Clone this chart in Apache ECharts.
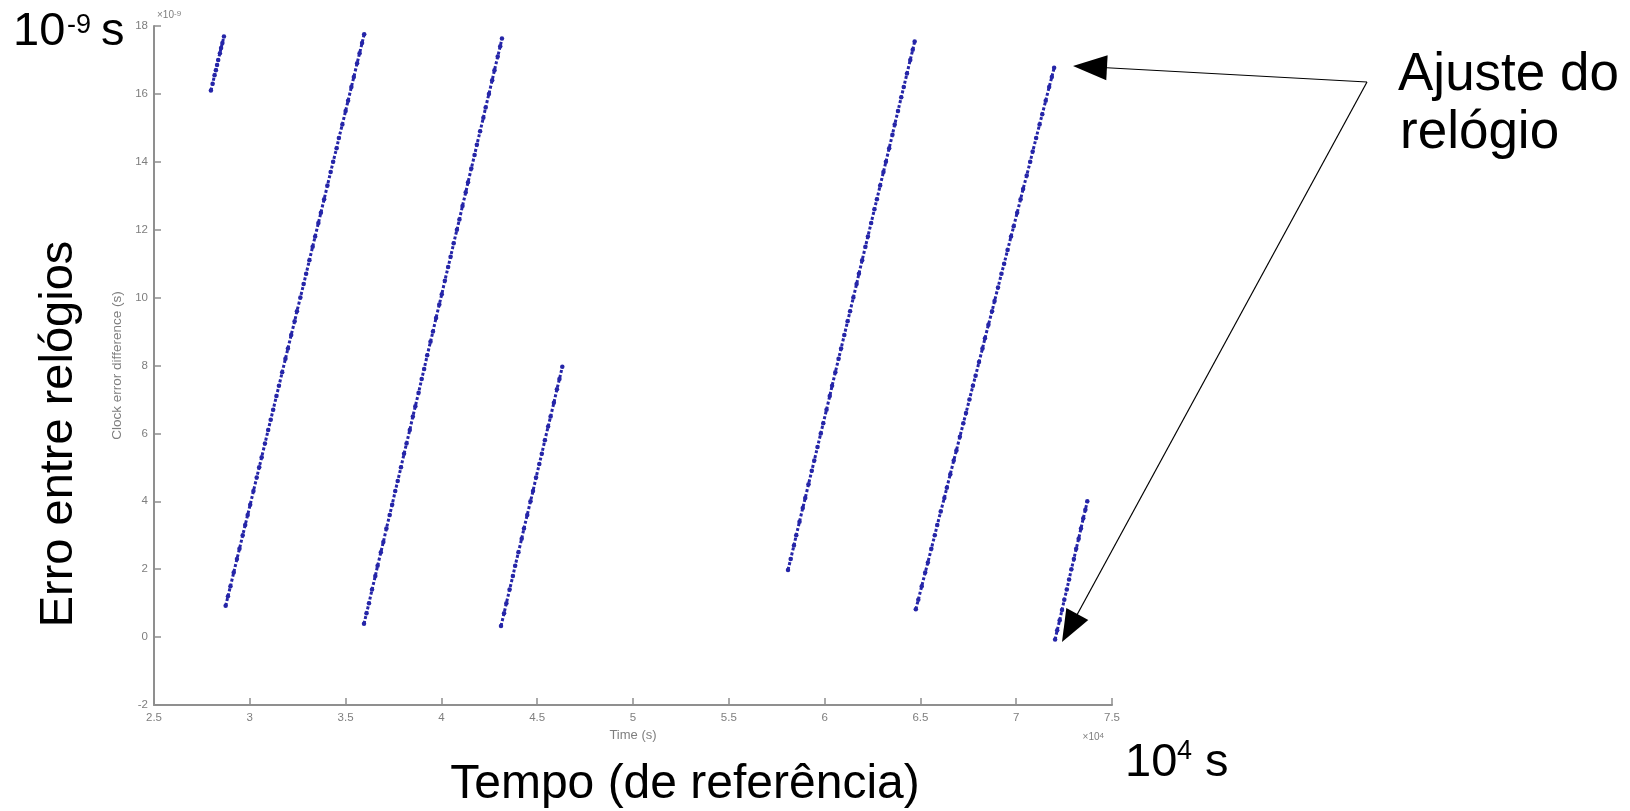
<!DOCTYPE html>
<html>
<head>
<meta charset="utf-8">
<script src="https://cdn.jsdelivr.net/npm/echarts@6/dist/echarts.min.js"></script>
<style>html,body{margin:0;padding:0;background:#fff}#c{width:1630px;height:811px}</style>
</head>
<body>
<div id="c"></div>
<script>
// x in units of 1e4 s, y in units of 1e-9 s
const seg1 = [[2.797,16.1],[2.806,16.3],[2.816,16.55],[2.823,16.7],[2.829,16.85],[2.835,17.0],[2.844,17.2],[2.850,17.35],[2.857,17.5],[2.865,17.69]];
const seg2 = [[2.874,0.92],[2.886,1.2],[2.899,1.5],[2.916,1.9],[2.933,2.3],[2.946,2.6],[2.963,3.0],[2.976,3.3],[2.989,3.6],[3.002,3.9],[3.019,4.3],[3.036,4.7],[3.049,5.0],[3.062,5.3],[3.079,5.7],[3.096,6.1],[3.109,6.4],[3.122,6.7],[3.139,7.1],[3.152,7.4],[3.169,7.8],[3.186,8.2],[3.199,8.5],[3.216,8.9],[3.234,9.3],[3.246,9.6],[3.264,10.0],[3.281,10.4],[3.294,10.7],[3.311,11.1],[3.328,11.5],[3.341,11.8],[3.358,12.2],[3.371,12.5],[3.388,12.9],[3.405,13.3],[3.422,13.7],[3.435,14.0],[3.453,14.4],[3.465,14.7],[3.483,15.1],[3.500,15.5],[3.513,15.8],[3.530,16.2],[3.543,16.5],[3.560,16.9],[3.573,17.2],[3.586,17.5],[3.597,17.76]];
const seg3 = [[3.596,0.39],[3.609,0.7],[3.622,1.0],[3.638,1.4],[3.655,1.8],[3.667,2.1],[3.684,2.5],[3.697,2.8],[3.713,3.2],[3.730,3.6],[3.743,3.9],[3.759,4.3],[3.772,4.6],[3.789,5.0],[3.805,5.4],[3.818,5.7],[3.835,6.1],[3.851,6.5],[3.864,6.8],[3.881,7.2],[3.897,7.6],[3.910,7.9],[3.926,8.3],[3.943,8.7],[3.956,9.0],[3.972,9.4],[3.989,9.8],[4.002,10.1],[4.018,10.5],[4.035,10.9],[4.048,11.2],[4.064,11.6],[4.081,12.0],[4.094,12.3],[4.110,12.7],[4.127,13.1],[4.139,13.4],[4.156,13.8],[4.173,14.2],[4.185,14.5],[4.202,14.9],[4.219,15.3],[4.231,15.6],[4.248,16.0],[4.265,16.4],[4.277,16.7],[4.294,17.1],[4.307,17.4],[4.316,17.63]];
const seg4 = [[4.311,0.33],[4.327,0.7],[4.339,1.0],[4.356,1.4],[4.373,1.8],[4.385,2.1],[4.402,2.5],[4.419,2.9],[4.431,3.2],[4.448,3.6],[4.465,4.0],[4.478,4.3],[4.494,4.7],[4.511,5.1],[4.524,5.4],[4.540,5.8],[4.557,6.2],[4.570,6.5],[4.587,6.9],[4.603,7.3],[4.616,7.6],[4.631,7.96]];
const seg5 = [[5.809,1.98],[5.823,2.3],[5.840,2.7],[5.852,3.0],[5.869,3.4],[5.886,3.8],[5.899,4.1],[5.916,4.5],[5.933,4.9],[5.946,5.2],[5.963,5.6],[5.980,6.0],[5.993,6.3],[6.010,6.7],[6.027,7.1],[6.039,7.4],[6.056,7.8],[6.073,8.2],[6.086,8.5],[6.103,8.9],[6.120,9.3],[6.133,9.6],[6.150,10.0],[6.167,10.4],[6.179,10.7],[6.196,11.1],[6.213,11.5],[6.226,11.8],[6.243,12.2],[6.260,12.6],[6.273,12.9],[6.290,13.3],[6.307,13.7],[6.320,14.0],[6.337,14.4],[6.354,14.8],[6.366,15.1],[6.383,15.5],[6.400,15.9],[6.413,16.2],[6.430,16.6],[6.447,17.0],[6.460,17.3],[6.470,17.54]];
const seg6 = [[6.476,0.82],[6.489,1.1],[6.507,1.5],[6.525,1.9],[6.539,2.2],[6.557,2.6],[6.575,3.0],[6.588,3.3],[6.606,3.7],[6.625,4.1],[6.638,4.4],[6.656,4.8],[6.674,5.2],[6.688,5.5],[6.706,5.9],[6.724,6.3],[6.738,6.6],[6.756,7.0],[6.774,7.4],[6.788,7.7],[6.806,8.1],[6.824,8.5],[6.837,8.8],[6.855,9.2],[6.874,9.6],[6.887,9.9],[6.905,10.3],[6.923,10.7],[6.937,11.0],[6.955,11.4],[6.973,11.8],[6.987,12.1],[7.005,12.5],[7.023,12.9],[7.036,13.2],[7.055,13.6],[7.073,14.0],[7.086,14.3],[7.104,14.7],[7.122,15.1],[7.136,15.4],[7.154,15.8],[7.172,16.2],[7.186,16.5],[7.198,16.77]];
const seg7 = [[7.203,-0.07],[7.214,0.2],[7.227,0.5],[7.239,0.8],[7.251,1.1],[7.264,1.4],[7.276,1.7],[7.288,2.0],[7.301,2.3],[7.313,2.6],[7.326,2.9],[7.338,3.2],[7.350,3.5],[7.361,3.75],[7.371,4.0]];
const segments = [seg1, seg2, seg3, seg4, seg5, seg6, seg7];

const xAxisTitle = 'Time (s)';
const yAxisTitle = 'Clock error difference (s)';
const xExpLabel = '4';
const yExpLabel = '-9';

const FONT = "'Liberation Sans', Arial, sans-serif";
const AX = '#8f8f8f';
const LBL = '#7e7e7e';
const DOT = '#2525a8';

function arrowHead(tip, from, len, w) {
  const dx = tip[0] - from[0], dy = tip[1] - from[1];
  const L = Math.hypot(dx, dy);
  const ux = dx / L, uy = dy / L;
  const bx = tip[0] - ux * len, by = tip[1] - uy * len;
  return [[tip[0], tip[1]], [bx - uy * w / 2, by + ux * w / 2], [bx + uy * w / 2, by - ux * w / 2]];
}
const junction = [1367, 82];
const tipTop = [1073, 66];
const tipBot = [1062, 642];

const chart = echarts.init(document.getElementById('c'), null, {renderer: 'canvas'});
chart.setOption({
  animation: false,
  backgroundColor: '#ffffff',
  grid: {left: 154, right: 518, top: 26, bottom: 106, containLabel: false},
  xAxis: {
    type: 'value', min: 2.5, max: 7.5, interval: 0.5,
    name: xAxisTitle, nameLocation: 'middle', nameGap: 22,
    nameTextStyle: {color: LBL, fontSize: 13, fontFamily: FONT},
    axisLine: {show: true, onZero: false, lineStyle: {color: AX, width: 2}},
    axisTick: {show: true, inside: true, length: 7, lineStyle: {color: AX, width: 1.5}},
    axisLabel: {color: LBL, fontSize: 11.5, fontFamily: FONT, margin: 7},
    splitLine: {show: false}
  },
  yAxis: {
    type: 'value', min: -2, max: 18, interval: 2,
    name: yAxisTitle, nameLocation: 'middle', nameGap: 26, nameRotate: 90,
    nameTextStyle: {color: LBL, fontSize: 13.5, fontFamily: FONT},
    axisLine: {show: true, onZero: false, lineStyle: {color: AX, width: 2}},
    axisTick: {show: true, inside: true, length: 7, lineStyle: {color: AX, width: 1.5}},
    axisLabel: {color: LBL, fontSize: 11.5, fontFamily: FONT, margin: 6},
    splitLine: {show: false}
  },
  series: segments.map((s, i) => ({
    type: 'line', name: 'seg' + (i + 1), data: s,
    showSymbol: true, symbol: 'circle', symbolSize: 4.5,
    itemStyle: {color: DOT},
    lineStyle: {color: DOT, width: 3, type: [3, 2]},
    silent: true
  })),
  graphic: [
    // small MATLAB exponent labels
    {type: 'text', left: 157, top: 10, style: {text: '×10{s|' + yExpLabel + '}', rich: {s: {fontSize: 8, verticalAlign: 'top', fill: LBL, fontFamily: FONT}}, fill: LBL, fontSize: 10, fontFamily: FONT}},
    {type: 'text', right: 526, top: 732, style: {text: '×10{s|' + xExpLabel + '}', rich: {s: {fontSize: 8, verticalAlign: 'top', fill: LBL, fontFamily: FONT}}, fill: LBL, fontSize: 10, fontFamily: FONT}},
    // big annotations
    {type: 'text', x: 13, y: 32, style: {text: '10', fontSize: 47, fontFamily: FONT, fill: '#000', verticalAlign: 'middle', align: 'left'}},
    {type: 'text', x: 67, y: 26, style: {text: '-9', fontSize: 27, fontFamily: FONT, fill: '#000', verticalAlign: 'middle', align: 'left'}},
    {type: 'text', x: 101, y: 32, style: {text: 's', fontSize: 47, fontFamily: FONT, fill: '#000', verticalAlign: 'middle', align: 'left'}},
    {type: 'text', x: 1125, y: 763, style: {text: '10', fontSize: 47, fontFamily: FONT, fill: '#000', verticalAlign: 'middle', align: 'left'}},
    {type: 'text', x: 1177, y: 752, style: {text: '4', fontSize: 27, fontFamily: FONT, fill: '#000', verticalAlign: 'middle', align: 'left'}},
    {type: 'text', x: 1205, y: 763, style: {text: 's', fontSize: 47, fontFamily: FONT, fill: '#000', verticalAlign: 'middle', align: 'left'}},
    {type: 'text', x: 685, y: 785, style: {text: 'Tempo (de referência)', fontSize: 48, fontFamily: FONT, fill: '#000', verticalAlign: 'middle', align: 'center'}},
    {type: 'text', x: 59, y: 434, rotation: Math.PI / 2, style: {text: 'Erro entre relógios', fontSize: 47, fontFamily: FONT, fill: '#000', verticalAlign: 'middle', align: 'center'}},
    {type: 'text', x: 1398, y: 75, style: {text: 'Ajuste do', fontSize: 53, fontFamily: FONT, fill: '#000', verticalAlign: 'middle', align: 'left'}},
    {type: 'text', x: 1400, y: 133, style: {text: 'relógio', fontSize: 53, fontFamily: FONT, fill: '#000', verticalAlign: 'middle', align: 'left'}},
    // arrows
    {type: 'line', shape: {x1: junction[0], y1: junction[1], x2: tipTop[0] + 20, y2: tipTop[1] + 1}, style: {stroke: '#000', lineWidth: 1.2}},
    {type: 'polygon', shape: {points: arrowHead(tipTop, junction, 34, 25)}, style: {fill: '#000'}},
    {type: 'line', shape: {x1: junction[0], y1: junction[1], x2: tipBot[0] + 10, y2: tipBot[1] - 18}, style: {stroke: '#000', lineWidth: 1.2}},
    {type: 'polygon', shape: {points: arrowHead(tipBot, junction, 32, 25)}, style: {fill: '#000'}}
  ]
});
</script>
</body>
</html>
